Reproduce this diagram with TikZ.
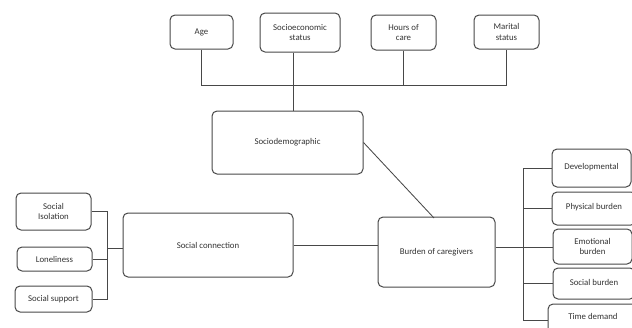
\documentclass[tikz,border=0pt]{standalone}
\usepackage{fontspec}
\setmainfont{Carlito}
\definecolor{lnc}{HTML}{484848}
\definecolor{txc}{HTML}{333333}
\begin{document}
\begin{tikzpicture}[x=1pt,y=-1pt,
  box/.style={draw=lnc, line width=1pt, rounded corners=5pt, fill=white, text=txc,
    align=center, inner sep=1pt, font=\fontsize{8.8}{10.8}\selectfont},
  conn/.style={draw=lnc, line width=0.85pt}]
\useasboundingbox (0,0) rectangle (632,327);
\clip (0,0) rectangle (632,327);
% top row
\node[box, minimum width=63pt, minimum height=34pt] (age) at (201.5,32) {Age};
\node[box, minimum width=80pt, minimum height=39pt] (ses) at (300,32.5) {Socioeconomic\\status};
\node[box, minimum width=65pt, minimum height=35pt] (hours) at (403.5,32.5) {Hours of\\care};
\node[box, minimum width=65pt, minimum height=34pt] (mar) at (506.5,32) {Marital\\status};
% main boxes
\node[box, minimum width=151pt, minimum height=63pt] (sdem) at (287.5,142.5) {Sociodemographic};
\node[box, minimum width=117pt, minimum height=70pt] (burden) at (436.5,252) {Burden of caregivers};
\node[box, minimum width=170pt, minimum height=64pt] (sconn) at (208,245) {Social connection};
% left boxes
\node[box, minimum width=75pt, minimum height=37pt] (iso) at (53.5,211.5) {Social\\Isolation};
\node[box, minimum width=75pt, minimum height=24pt] (lone) at (54.5,259) {Loneliness};
\node[box, minimum width=77pt, minimum height=26pt] (supp) at (53.5,299) {Social support};
% right boxes
\node[box, minimum width=79pt, minimum height=38pt] (dev) at (591.5,168) {\raisebox{3pt}{Developmental}};
\node[box, minimum width=84pt, minimum height=33pt] (phys) at (594,208.5) {\raisebox{5pt}{Physical burden}};
\node[box, minimum width=79pt, minimum height=35pt] (emo) at (592.5,246.5) {Emotional\\burden};
\node[box, minimum width=82pt, minimum height=31pt] (soc) at (594,283.5) {\raisebox{3pt}{Social burden}};
\node[box, minimum width=90pt, minimum height=32pt] (time) at (593,320) {\raisebox{8pt}{Time demand}};
% coordinates
\coordinate (tb) at (293,85);
\coordinate (lb) at (107,248);
\coordinate (rb) at (523,247);
% top bus
\draw[conn] (age.south) -- (age.south |- tb) -- (mar.south |- tb) -- (mar.south);
\draw[conn] (hours.south) -- (hours.south |- tb);
\draw[conn] (ses.south -| tb) -- (sdem.north -| tb);
% diagonal
\draw[conn] (sdem.east) -- (434,218);
% social connection to burden
\draw[conn] (sconn.east) -- (burden.west |- sconn.east);
% left bus
\draw[conn] (iso.east) -- (iso.east -| lb) -- (supp.east -| lb) -- (supp.east);
\draw[conn] (lone.east) -- (lone.east -| lb);
\draw[conn] (lb) -- (sconn.west |- lb);
% right bus
\draw[conn] (burden.east |- rb) -- (emo.west |- rb);
\draw[conn] (dev.west) -- (dev.west -| rb) -- (rb |- time.west) -- (time.west);
\draw[conn] (phys.west -| rb) -- (phys.west);
\draw[conn] (soc.west -| rb) -- (soc.west);
\end{tikzpicture}
\end{document}
